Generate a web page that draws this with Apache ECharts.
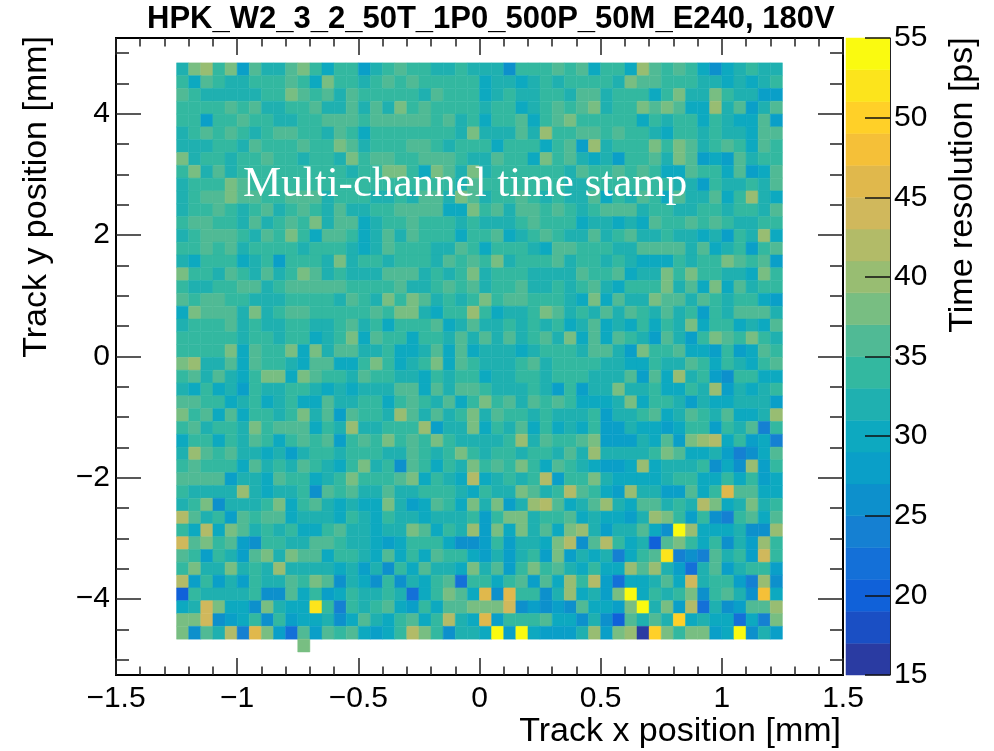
<!DOCTYPE html>
<html>
<head>
<meta charset="utf-8">
<style>
  html, body { margin: 0; padding: 0; background: #fff; }
  #chart { width: 994px; height: 751px; }
</style>
<script src="https://cdn.jsdelivr.net/npm/echarts@6/dist/echarts.min.js"></script>
</head>
<body>
<div id="chart"></div>
<script>
// time resolution per bin [ps], top row first
const rows = [
  [32,38,40,34,38,28,36,32,32,36,38,34,30,34,34,28,32,34,36,34,34,32,32,34,32,32,32,26,34,34,34,36,34,36,30,34,34,30,40,36,34,36,34,30,26,30,32,34,32,32],
  [34,30,36,34,32,32,34,34,34,36,34,30,38,34,34,32,34,36,34,36,34,34,34,34,34,30,32,32,30,32,34,32,34,34,34,34,32,38,36,36,34,34,34,32,32,30,32,30,32,34],
  [36,34,32,32,32,32,32,34,34,38,36,34,36,32,36,34,34,34,34,34,32,36,34,34,34,30,32,34,32,32,34,34,32,36,36,32,34,34,34,30,34,38,32,32,38,34,32,32,28,28],
  [34,34,34,34,36,34,36,32,32,34,34,36,32,32,36,32,36,32,38,34,36,34,34,34,34,32,34,34,30,32,34,36,34,36,38,32,34,34,38,36,38,36,30,30,40,32,36,28,32,36],
  [34,34,28,34,34,36,34,34,32,32,34,34,36,36,36,34,36,36,36,36,36,34,36,32,34,30,34,34,36,30,34,36,38,34,34,34,34,34,30,34,32,34,34,30,34,32,30,30,36,28],
  [32,34,36,34,36,34,32,34,36,36,34,34,32,36,34,30,34,34,34,34,34,34,34,32,38,32,32,32,36,32,40,34,34,36,36,34,36,34,34,32,30,34,34,32,34,32,32,30,36,36],
  [32,32,32,34,34,32,36,34,34,34,36,34,34,38,36,32,34,34,34,36,36,34,32,34,34,34,30,34,34,34,30,34,36,28,40,32,34,34,34,38,34,38,36,32,34,36,34,30,36,34],
  [38,32,34,34,32,34,34,36,34,34,32,34,34,32,38,34,36,36,34,34,36,36,36,34,32,32,36,34,34,30,38,34,36,32,30,32,28,34,34,36,32,38,36,28,30,28,36,32,34,34],
  [34,38,32,36,32,34,34,34,34,34,34,34,34,34,32,34,34,38,38,34,30,38,36,32,38,32,34,34,34,34,34,34,32,36,34,34,36,34,36,34,30,30,36,34,34,30,36,28,30,36],
  [32,34,34,34,38,36,34,34,34,34,34,34,34,34,34,34,34,34,34,34,34,34,34,32,36,34,34,34,34,34,34,34,32,32,34,34,34,34,34,34,34,32,32,28,34,32,32,34,32,36],
  [32,34,36,36,38,36,36,34,34,36,36,36,32,34,34,34,32,32,34,32,36,36,32,38,36,32,34,34,36,34,32,34,32,32,36,30,34,32,36,34,30,36,32,32,36,30,34,40,32,30],
  [32,34,34,36,34,32,34,36,32,34,36,34,32,36,32,32,34,34,36,36,36,36,30,30,38,34,36,32,36,36,34,36,34,32,34,36,36,36,32,34,34,32,32,34,34,32,34,34,32,36],
  [34,36,36,34,34,32,36,32,34,36,34,38,32,36,36,30,32,34,34,36,34,34,34,32,34,32,32,32,34,36,34,34,34,30,32,32,30,32,30,36,34,34,36,34,36,34,32,32,34,34],
  [32,34,36,36,36,34,32,36,34,38,34,30,36,36,34,30,32,36,32,36,34,34,34,30,34,34,36,30,32,34,36,34,32,32,36,32,34,36,32,32,34,32,32,30,32,28,34,32,40,30],
  [34,34,36,34,36,32,34,34,34,34,32,34,34,34,32,30,32,36,34,34,34,32,32,36,34,30,34,34,34,32,30,36,36,34,34,34,32,32,36,36,36,36,32,36,30,32,34,28,34,36],
  [32,30,34,34,34,30,32,34,28,34,34,34,32,38,32,34,34,32,34,34,34,32,36,34,36,34,38,32,34,34,34,36,32,34,34,32,34,32,30,30,30,34,32,34,34,38,36,34,36,28],
  [38,34,34,32,36,34,32,36,32,34,38,36,32,34,32,32,32,36,36,36,32,34,32,34,38,32,34,34,34,32,32,32,32,36,34,34,36,30,32,32,38,34,38,34,34,32,32,30,38,34],
  [34,32,32,34,34,36,36,32,34,36,36,36,36,36,34,34,34,34,36,32,32,34,36,34,36,32,34,34,36,32,32,34,32,34,36,32,30,34,34,34,38,32,36,30,38,30,36,32,34,34],
  [36,34,36,36,34,34,32,32,32,34,34,34,34,32,36,34,32,38,34,38,36,32,34,32,34,38,34,36,36,34,34,34,32,30,38,30,36,32,32,38,36,36,32,36,34,32,34,34,30,28],
  [30,38,36,36,36,32,38,32,34,36,36,34,34,34,34,34,36,34,38,38,32,30,34,34,40,34,30,32,32,34,38,36,32,34,32,36,32,36,34,32,36,32,34,28,34,32,36,36,36,32],
  [32,34,34,34,36,32,34,32,32,34,34,32,32,34,36,32,34,30,34,34,34,36,30,32,36,32,32,34,32,34,32,34,30,32,36,30,32,30,34,30,34,32,38,30,34,34,30,32,30,36],
  [34,34,34,34,34,32,34,34,32,34,34,30,32,34,38,30,36,34,34,30,34,34,32,36,32,36,32,36,32,34,36,32,38,30,36,30,36,34,32,28,36,32,28,34,38,36,34,38,34,32],
  [34,34,34,34,38,30,36,34,34,38,30,38,32,36,36,32,32,34,30,30,32,36,30,36,30,32,32,32,30,32,34,34,34,32,36,36,32,28,38,34,34,36,30,30,28,34,28,30,36,34],
  [38,40,32,32,36,30,36,34,34,32,30,36,36,30,30,34,38,34,30,32,34,38,30,36,34,32,32,32,34,36,32,34,34,34,34,32,32,30,30,34,32,32,36,34,30,34,32,30,34,36],
  [34,36,32,36,32,30,34,38,38,30,38,36,34,34,32,36,34,34,32,32,30,34,32,34,34,30,32,32,34,34,32,34,34,34,32,32,32,36,28,36,30,40,32,34,28,26,34,34,30,30],
  [32,30,34,30,32,28,34,32,32,34,34,32,30,32,30,32,32,32,36,36,30,36,32,36,36,34,32,32,32,34,32,28,34,28,32,32,38,32,32,34,30,30,34,32,40,28,32,30,32,34],
  [36,36,34,34,30,32,34,30,32,34,30,30,36,32,32,34,34,30,34,36,34,32,36,30,34,38,34,36,32,36,34,36,34,30,30,30,32,38,30,34,34,32,28,32,30,30,32,32,32,28],
  [38,34,36,30,36,30,34,34,32,34,38,32,36,28,36,34,34,32,40,36,32,36,32,34,38,32,36,34,34,32,34,32,32,32,34,28,32,32,34,36,30,32,36,34,32,36,30,30,32,40],
  [34,36,32,34,34,32,38,34,36,36,36,30,34,32,40,32,32,34,34,34,40,28,32,32,38,30,34,32,36,30,34,30,32,30,34,28,28,32,30,30,28,30,34,34,28,34,32,36,24,34],
  [30,34,34,30,34,32,36,34,30,34,36,34,36,28,34,36,34,38,34,36,34,38,34,32,32,32,32,34,40,32,36,34,34,36,38,28,28,28,32,30,36,28,38,40,42,30,34,28,30,24],
  [32,40,36,34,36,32,32,30,32,28,32,34,34,32,34,34,34,32,32,36,34,32,34,38,34,32,34,34,32,34,34,32,36,32,40,32,32,32,32,34,38,36,30,30,32,28,24,26,30,36],
  [34,36,34,34,34,30,36,32,34,32,36,34,32,30,34,38,32,34,26,36,34,30,34,32,38,34,36,34,38,34,30,36,34,32,30,28,28,30,40,30,32,32,32,34,26,30,26,40,28,34],
  [36,36,36,36,28,32,32,30,36,34,34,30,32,34,38,34,34,34,36,38,30,34,32,30,42,30,32,34,32,34,42,28,34,34,38,32,30,30,30,30,32,34,34,30,30,34,30,34,28,30],
  [34,32,32,32,32,40,32,30,32,32,34,26,36,34,36,32,32,36,32,32,34,34,34,32,30,34,32,32,38,36,32,34,42,36,34,30,28,40,32,32,28,28,36,30,34,46,36,36,30,30],
  [32,34,38,26,32,32,32,34,38,30,34,36,32,30,32,30,30,38,32,28,30,36,34,30,38,32,38,28,32,40,42,36,30,32,36,40,32,30,36,36,32,34,32,42,38,30,32,38,32,34],
  [42,36,32,34,28,36,34,36,36,30,32,32,32,30,34,32,30,34,32,32,30,32,32,32,34,28,34,38,38,32,34,34,36,30,32,30,30,28,32,40,38,34,28,34,26,24,34,36,30,36],
  [34,30,42,30,38,36,32,34,32,34,30,30,34,36,32,32,30,32,32,38,36,30,34,32,40,28,38,30,38,32,36,30,38,40,32,28,32,32,36,30,26,54,40,30,30,30,32,26,26,40],
  [44,36,38,34,36,28,26,34,34,32,32,36,36,34,32,32,30,28,30,34,34,34,30,26,26,28,34,28,32,32,30,38,42,26,36,42,34,30,32,20,36,38,34,30,34,26,32,28,40,34],
  [36,34,28,34,32,28,36,38,32,38,36,36,30,34,34,32,30,36,30,34,30,36,34,34,30,28,32,28,32,34,28,38,28,32,30,32,24,30,34,36,52,24,26,24,36,32,34,28,44,34],
  [34,38,32,32,38,32,34,32,40,32,32,32,32,30,32,28,32,26,34,30,36,32,32,30,38,32,36,28,34,38,34,36,32,30,34,30,30,40,36,40,32,28,22,32,36,28,32,34,34,28],
  [42,28,34,28,32,28,34,32,32,36,34,38,36,26,32,30,26,34,26,32,30,34,36,22,34,34,30,34,36,28,36,30,40,34,42,28,22,30,30,32,36,30,44,32,34,34,28,24,40,26],
  [20,34,32,32,32,32,34,26,26,36,30,34,28,30,34,32,32,34,32,22,30,34,38,36,30,46,26,46,34,34,26,32,40,30,32,28,38,54,30,34,32,34,38,26,34,36,32,26,48,30],
  [30,32,44,38,30,30,26,38,32,30,30,52,34,24,34,32,34,36,30,28,34,30,36,36,38,38,38,44,26,28,26,28,26,36,30,30,28,38,54,32,38,28,42,22,32,26,28,36,36,40],
  [38,38,44,26,28,30,34,26,34,28,30,30,32,26,30,36,32,30,34,36,30,34,42,32,30,46,28,34,34,34,36,30,30,26,32,26,20,36,32,36,32,50,30,32,30,30,22,30,24,38],
  [38,26,36,32,42,24,46,38,28,22,36,28,36,34,36,30,28,30,34,42,38,34,26,32,32,30,54,28,54,30,28,28,28,32,40,28,38,40,16,50,38,34,38,38,28,30,54,26,32,28]
]
// the single filled bin below the last full row
const lowestCols = [10]
const lowestVals = [38]

const xMajor = [-1.5, -1, -0.5, 0, 0.5, 1, 1.5]
const xMinor = [-1.4, -1.3, -1.2, -1.1, -0.9, -0.8, -0.7, -0.6, -0.4, -0.3, -0.2, -0.1, 0.1, 0.2, 0.3, 0.4, 0.6, 0.7, 0.8, 0.9, 1.1, 1.2, 1.3, 1.4]
const yMajor = [-4, -2, 0, 2, 4]
const yMinor = [-5, -4.5, -3.5, -3, -2.5, -1.5, -1, -0.5, 0.5, 1, 1.5, 2.5, 3, 3.5, 4.5, 5]
const zTicks = [15, 20, 25, 30, 35, 40, 45, 50, 55]

// one colour per 2 ps band, 15-17 first
const palette = ['#2a3ba2', '#1a4fc4', '#1061d9', '#1470d8', '#1580d2', '#0d90cc', '#0a9fc8', '#0da9c0', '#1fb0b0', '#33b8a0', '#50ba95', '#78be82', '#98bd72', '#b2bb68', '#d0b85c', '#e0b84c', '#f5c038', '#ffd028', '#fce41c', '#fafa10']

const FONT = '"Liberation Sans", Arial, sans-serif'
const zMin = 15
const zStep = 2
const binW = 0.05
const binH = 0.2111
const xStart = -1.25
const yTop = 4.84

function bandColor(v) {
  return palette[Math.floor((v - zMin) / zStep)]
}

const cells = []
rows.forEach((row, r) => {
  row.forEach((v, c) => {
    cells.push([xStart + binW * c, yTop - binH * r, v])
  })
})
lowestCols.forEach((c, i) => {
  cells.push([xStart + binW * c, yTop - binH * rows.length, lowestVals[i]])
})

const bands = palette.map((col, i) => [zMin + zStep * i, zMin + zStep * (i + 1)])

function minus(v) {
  return String(v).replace('-', '\u2212')
}

const lineStyle = { color: '#000', width: 2 }

function xAxisFor(position, ticks, len, showLabels) {
  return {
    type: 'value', gridIndex: 0, position: position, min: -1.5, max: 1.5,
    axisLine: { show: true, onZero: false, lineStyle: lineStyle },
    axisTick: { show: true, inside: true, length: len, customValues: ticks, lineStyle: { color: '#222', width: 1.5 } },
    axisLabel: showLabels
      ? { show: true, customValues: ticks, formatter: minus, color: '#000', fontFamily: FONT, fontSize: 30, margin: 9, showMinLabel: true, showMaxLabel: true, hideOverlap: false }
      : { show: false },
    splitLine: { show: false }
  }
}

function yAxisFor(position, ticks, len, showLabels) {
  return {
    type: 'value', gridIndex: 0, position: position, min: -5.25, max: 5.25,
    axisLine: { show: true, onZero: false, lineStyle: lineStyle },
    axisTick: { show: true, inside: true, length: len, customValues: ticks, lineStyle: { color: '#222', width: 1.5 } },
    axisLabel: showLabels
      ? { show: true, customValues: ticks, formatter: minus, color: '#000', fontFamily: FONT, fontSize: 30, margin: 6 }
      : { show: false },
    splitLine: { show: false }
  }
}

const xBottom = xAxisFor('bottom', xMajor, 17, true)
xBottom.name = 'Track x position [mm]'
xBottom.nameLocation = 'end'
xBottom.nameGap = -2
xBottom.nameTextStyle = { color: '#000', fontFamily: FONT, fontSize: 34, align: 'right', verticalAlign: 'top', padding: [40, 0, 0, 0] }

const yLeft = yAxisFor('left', yMajor, 25, true)
yLeft.name = 'Track y position [mm]'
yLeft.nameLocation = 'end'
yLeft.nameRotate = 90
yLeft.nameGap = 2
yLeft.nameTextStyle = { color: '#000', fontFamily: FONT, fontSize: 34, align: 'right', verticalAlign: 'bottom', padding: [0, 0, 62, 0] }

const chart = echarts.init(document.getElementById('chart'), null, { renderer: 'canvas' })

chart.setOption({
  animation: false,
  backgroundColor: '#fff',
  title: {
    text: 'HPK_W2_3_2_50T_1P0_500P_50M_E240, 180V',
    left: 147, top: 4, padding: 0,
    textStyle: { color: '#000', fontFamily: FONT, fontWeight: 'bold', fontSize: 31 }
  },
  grid: [
    { left: 116, top: 38, width: 727, height: 637, outerBoundsMode: 'none' },
    { left: 846, top: 38, width: 44, height: 637, outerBoundsMode: 'none' }
  ],
  xAxis: [
    xBottom,
    xAxisFor('top', xMajor, 17, false),
    xAxisFor('bottom', xMinor, 8.5, false),
    xAxisFor('top', xMinor, 8.5, false),
    { type: 'value', gridIndex: 1, min: 0, max: 1, show: false }
  ],
  yAxis: [
    yLeft,
    yAxisFor('right', yMajor, 25, false),
    yAxisFor('left', yMinor, 13, false),
    yAxisFor('right', yMinor, 13, false),
    {
      type: 'value', gridIndex: 1, position: 'right', min: 15, max: 55, z: 10,
      axisLine: { show: true, onZero: false, lineStyle: { color: '#222', width: 1 } },
      axisTick: { show: true, inside: true, length: 25, customValues: zTicks, lineStyle: { color: '#111', width: 1.5 } },
      axisLabel: { customValues: zTicks, color: '#000', fontFamily: FONT, fontSize: 30, margin: 4, showMinLabel: true, showMaxLabel: true },
      splitLine: { show: false }
    }
  ],
  series: [
    {
      type: 'custom',
      xAxisIndex: 0,
      yAxisIndex: 0,
      data: cells,
      encode: { x: 0, y: 1 },
      renderItem: function (params, api) {
        const a = api.coord([api.value(0), api.value(1)])
        const b = api.coord([api.value(0) + binW, api.value(1) - binH])
        const fill = bandColor(api.value(2))
        return {
          type: 'rect',
          shape: { x: a[0], y: a[1], width: b[0] - a[0], height: b[1] - a[1] },
          style: { fill: fill, stroke: fill, lineWidth: 0.5 }
        }
      }
    },
    {
      type: 'custom',
      xAxisIndex: 4,
      yAxisIndex: 4,
      data: bands,
      renderItem: function (params, api) {
        const a = api.coord([0, api.value(1)])
        const b = api.coord([1, api.value(0)])
        const fill = palette[params.dataIndex]
        return {
          type: 'rect',
          shape: { x: a[0], y: a[1], width: b[0] - a[0], height: b[1] - a[1] },
          style: { fill: fill, stroke: fill, lineWidth: 0.5 }
        }
      }
    }
  ],
  graphic: [
    {
      type: 'text', left: 243, top: 163, z: 20,
      style: { text: 'Multi-channel time stamp', fill: '#fff', font: '43px "Liberation Serif", serif' }
    },
    {
      type: 'text', x: 963, y: 185, rotation: Math.PI / 2, z: 20,
      style: { text: 'Time resolution [ps]', fill: '#000', font: '34px "Liberation Sans", sans-serif', align: 'center', verticalAlign: 'middle' }
    }
  ]
})
</script>
</body>
</html>
